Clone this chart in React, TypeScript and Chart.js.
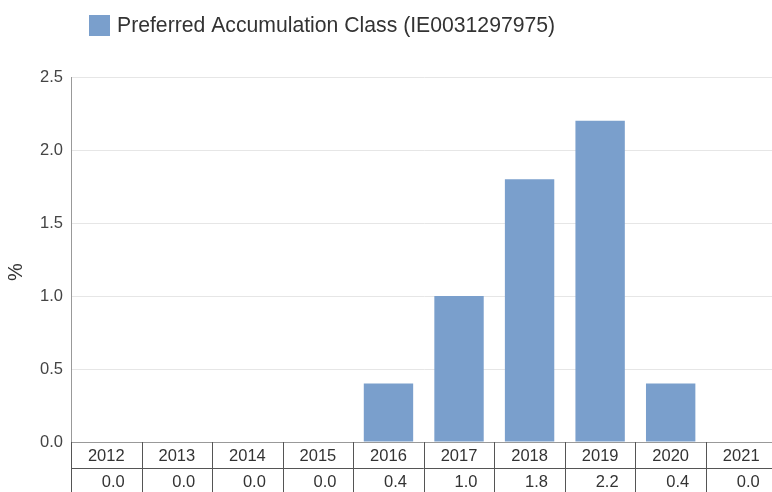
import React, { useEffect, useRef } from "react";
import { Chart, registerables } from "chart.js";

Chart.register(...registerables);

const categories = ["2012", "2013", "2014", "2015", "2016", "2017", "2018", "2019", "2020", "2021"];
const values = [0.0, 0.0, 0.0, 0.0, 0.4, 1.0, 1.8, 2.2, 0.4, 0.0];
const valueLabels = ["0.0", "0.0", "0.0", "0.0", "0.4", "1.0", "1.8", "2.2", "0.4", "0.0"];
const seriesName = "Preferred Accumulation Class (IE0031297975)";
const yTitle = "%";
const yMin = 0;
const yMax = 2.5;
const yStep = 0.5;

const FONT = "'Liberation Sans', Arial, sans-serif";
const BAR_COLOR = "#7a9fcc";

const legendPlugin = {
  id: "customLegend",
  afterDraw(chart: any) {
    const ctx = chart.ctx;
    ctx.save();
    ctx.fillStyle = BAR_COLOR;
    ctx.fillRect(89, 15, 21, 21);
    ctx.fillStyle = "#333";
    ctx.font = `21.2px ${FONT}`;
    ctx.textAlign = "left";
    ctx.textBaseline = "middle";
    ctx.fillText(seriesName, 117, 26);
    // y title
    ctx.translate(16, 272);
    ctx.rotate(-Math.PI / 2);
    ctx.font = `20px ${FONT}`;
    ctx.textAlign = "center";
    ctx.textBaseline = "middle";
    ctx.fillText(yTitle, 0, 0);
    ctx.restore();
  },
};

const tablePlugin = {
  id: "dataTable",
  afterDraw(chart: any) {
    const { ctx, chartArea } = chart;
    const x = chart.scales.x;
    const n = categories.length;
    const colW = x.getPixelForValue(1) - x.getPixelForValue(0);
    const top = Math.round(chartArea.bottom);
    const mid = top + 26;
    const bottom = chart.height;
    ctx.save();
    ctx.lineWidth = 1;
    ctx.strokeStyle = "#999";
    ctx.beginPath();
    ctx.moveTo(chartArea.left, top + 0.5);
    ctx.lineTo(chartArea.right, top + 0.5);
    ctx.stroke();
    ctx.strokeStyle = "#555";
    ctx.beginPath();
    ctx.moveTo(chartArea.left, mid + 0.5);
    ctx.lineTo(chartArea.right, mid + 0.5);
    ctx.stroke();
    for (let i = 0; i <= n; i++) {
      const px = Math.round(x.getPixelForValue(i) - colW / 2) + 0.5;
      ctx.beginPath();
      ctx.moveTo(px, top);
      ctx.lineTo(px, bottom);
      ctx.stroke();
    }
    ctx.font = `16.5px ${FONT}`;
    ctx.textAlign = "center";
    ctx.textBaseline = "middle";
    for (let i = 0; i < n; i++) {
      const cx = x.getPixelForValue(i);
      ctx.fillStyle = "#333";
      ctx.fillText(categories[i], cx, top + 14);
      ctx.fillStyle = "#333";
      ctx.fillText(valueLabels[i], cx + 7, mid + 14);
    }
    ctx.restore();
  },
};

export default function App() {
  const ref = useRef<HTMLCanvasElement | null>(null);
  useEffect(() => {
    document.body.style.margin = "0";
    if (!ref.current) return;
    const chart = new Chart(ref.current, {
      type: "bar",
      data: {
        labels: categories,
        datasets: [
          {
            label: seriesName,
            data: values,
            backgroundColor: BAR_COLOR,
            borderWidth: 0,
            barPercentage: 0.7,
            categoryPercentage: 1.0,
          },
        ],
      },
      options: {
        animation: false,
        responsive: false,
        maintainAspectRatio: false,
        devicePixelRatio: 1,
        layout: { padding: { top: 77, bottom: 50, left: 0, right: 3.5 } },
        plugins: {
          legend: { display: false },
          tooltip: { enabled: false },
        },
        scales: {
          x: {
            display: false,
          },
          y: {
            min: yMin,
            max: yMax,
            afterFit(scale: any) {
              scale.width = 71;
            },
            ticks: {
              stepSize: yStep,
              padding: 8,
              color: "#444",
              font: { family: FONT, size: 16.5 },
              callback: (v: any) => Number(v).toFixed(1),
            },
            grid: { color: "#e6e6e6", drawTicks: false },
            border: { color: "#999" },
          },
        },
      },
      plugins: [tablePlugin, legendPlugin],
    });
    return () => chart.destroy();
  }, []);
  return (
    <div style={{ position: "fixed", left: 0, top: 0, width: 772, height: 492, overflow: "hidden", background: "#fff" }}>
      <canvas ref={ref} width={780} height={492} style={{ display: "block" }} />
    </div>
  );
}
